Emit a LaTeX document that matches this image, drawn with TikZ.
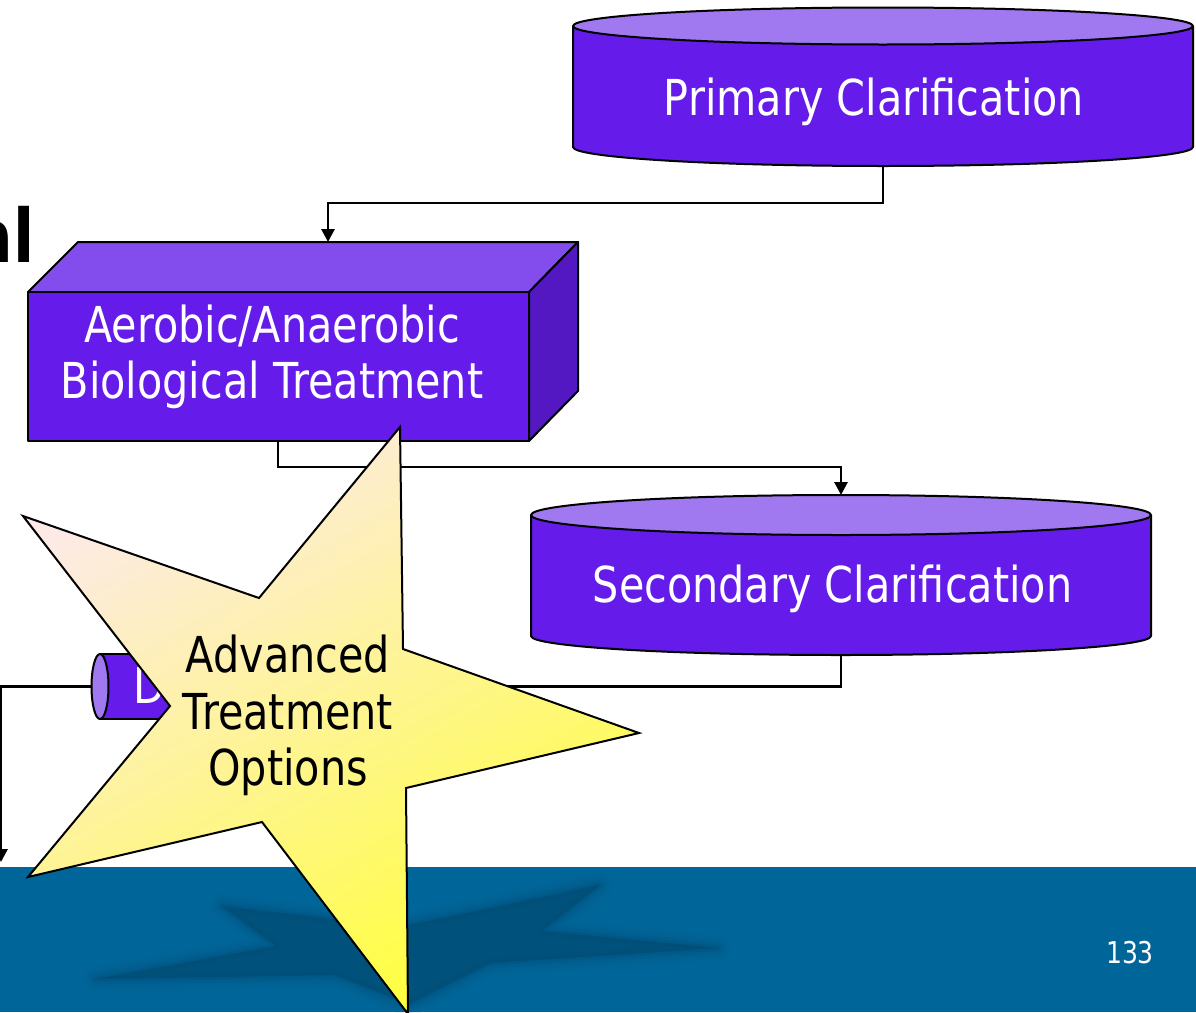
\documentclass[tikz,border=0pt]{standalone}
\usepackage{fontspec}
\usetikzlibrary{arrows.meta,calc}
\newfontfamily\tah[FakeStretch=0.835]{DejaVu Sans}
\definecolor{pmain}{RGB}{101,27,233}
\definecolor{plight}{RGB}{160,120,240}
\definecolor{ptop}{RGB}{131,76,237}
\definecolor{pside}{RGB}{84,24,194}
\definecolor{band}{RGB}{0,102,153}
\definecolor{shad}{RGB}{0,76,116}
\definecolor{peach}{RGB}{253,234,230}
\definecolor{midy}{RGB}{255,245,170}
\definecolor{ylw}{RGB}{255,255,60}
\begin{document}
\begin{tikzpicture}[x=1pt,y=-1pt,
  holder/.style={inner sep=0pt,outer sep=0pt,minimum width=#1},
  outl/.style={draw=black,line width=2pt,line join=round},
  conn/.style={draw=black,line width=2.8pt},
  arr/.style={-{Triangle[width=13pt,length=13pt]}},
  lbl/.style={font=\tah\fontsize{49.5}{56.5}\selectfont,text=white,inner sep=0pt,align=center}]
\useasboundingbox (0,0) rectangle (1196,1012);
\fill[white] (0,0) rectangle (1196,1012);

% bottom band and soft shadow
\fill[band] (0,867) rectangle (1196,1012);
\def\shadowpath{(96,979) -- (276,946) -- (222,906) -- (400,927) -- (600,885) -- (542,931) -- (718,948) -- (490,963) -- (409,1004) -- (335,975) -- cycle}
\draw[shad,line width=26pt,line join=round,draw opacity=0.07] \shadowpath;
\draw[shad,line width=18pt,line join=round,draw opacity=0.1] \shadowpath;
\draw[shad,line width=11pt,line join=round,draw opacity=0.15] \shadowpath;
\draw[shad,line width=5pt,line join=round,draw opacity=0.25] \shadowpath;
\fill[shad,fill opacity=0.75] \shadowpath;

% holder nodes
\node[holder=620,minimum height=158] (prim) at (883,87) {};
\node[holder=550,minimum height=199] (bio) at (303,341.5) {};
\node[holder=620,minimum height=160] (sec) at (841,575) {};
\node[holder=216,minimum height=65] (dis) at (200,686.5) {};
\coordinate (out1) at (1,686.5);
\coordinate (out2) at (1,862);

% connectors
\draw[conn,arr] (prim.south) -- ++(0,37) -| ([xshift=25pt]bio.north);
\draw[conn,arr] ([xshift=-25pt]bio.south) -- ++(0,26) -| (sec.north);
\draw[conn,arr] (sec.south) |- (dis.east);
\draw[conn,arr] (dis.west) -- (out1) -- (out2);

% primary clarification cylinder
\fill[pmain] (573,26) rectangle (1193,147);
\fill[pmain] (883,147) ellipse[x radius=310,y radius=19];
\draw[outl] (573,26) -- (573,147) arc[start angle=180,end angle=0,x radius=310,y radius=19] -- (1193,26);
\filldraw[outl,fill=plight] (883,26) ellipse[x radius=310,y radius=18.5];
\node[lbl,anchor=base] (primT) at (874,115) {Primary Clarification};

% biological treatment box
\filldraw[outl,fill=ptop] (28,292) -- (78,242) -- (578,242) -- (529,292) -- cycle;
\filldraw[outl,fill=pside] (529,292) -- (578,242) -- (578,391) -- (529,441) -- cycle;
\filldraw[outl,fill=pmain] (28,292) rectangle (529,441);
\node[lbl] (bioT) at (272,357) {Aerobic/Anaerobic\\Biological Treatment};

% secondary clarification cylinder
\fill[pmain] (531,515) rectangle (1151,636);
\fill[pmain] (841,636) ellipse[x radius=310,y radius=19];
\draw[outl] (531,515) -- (531,636) arc[start angle=180,end angle=0,x radius=310,y radius=19] -- (1151,515);
\filldraw[outl,fill=plight] (841,515) ellipse[x radius=310,y radius=20];
\node[lbl,anchor=base] (secT) at (832.5,602) {Secondary Clarification};

% small cylinder
\fill[pmain] (100,654) rectangle (300,719);
\draw[outl] (100,654) -- (300,654);
\draw[outl] (100,719) -- (300,719);
\filldraw[outl,fill=pmain] (300,686.5) ellipse[x radius=8.5,y radius=32.5];
\filldraw[outl,fill=plight] (100,686.5) ellipse[x radius=8.5,y radius=32.5];
\node[lbl,anchor=base west] (disT) at (133,703) {D};

% star
\shade[draw=black,line width=2pt,line join=miter,top color=peach,middle color=midy,bottom color=ylw,shading angle=30]
  (400,427) -- (403,649) -- (639,733) -- (406,788) -- (408,1014) -- (262,822) -- (28,877) -- (170,706) -- (23,516) -- (259,598) -- cycle;
\node[lbl,text=black] (adv) at (288,715.5) {Advanced\\Treatment\\Options};

% title fragment and page number
\node[font=\tah\bfseries\fontsize{74}{80}\selectfont,anchor=base east,inner sep=0pt] (ttl) at (35,262) {al};
\node[font=\tah\fontsize{30}{36}\selectfont,text=white,inner sep=0pt] (pg) at (1130,952.5) {133};
\end{tikzpicture}
\end{document}
